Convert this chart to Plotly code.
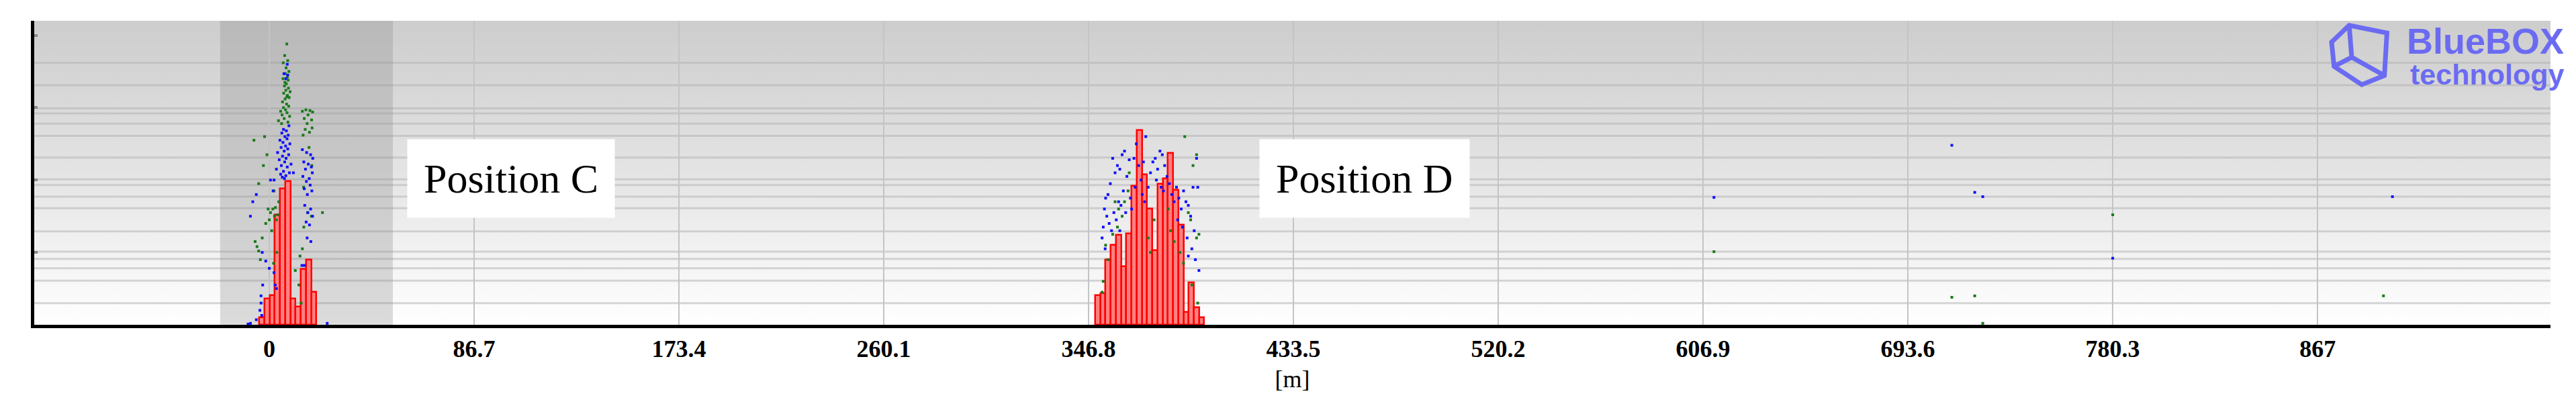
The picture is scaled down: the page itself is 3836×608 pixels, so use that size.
import base64
import plotly.graph_objects as go

# histogram bars (bin width 2.2 m)
bar_w = 2.2
c_start = -3.1
c_heights = [0.10, 0.36, 0.41, 1.52, 1.88, 1.98, 0.36, 0.25, 0.77, 0.90, 0.45]
d_start = 350.7
d_heights = [0.41, 0.44, 0.90, 1.10, 1.24, 0.81, 1.26, 1.92, 2.69, 2.08, 1.60,
             1.03, 1.95, 2.02, 2.37, 1.86, 1.38, 0.18, 0.58, 0.24, 0.10]

# scatter points (x in m, y in chart units)
green_pts = [
    (7.4, 3.88), (6.5, 3.72), (7.8, 3.65), (5.9, 3.62), (7.1, 3.55), (8.3, 3.5), (6.8, 3.47),
    (7.6, 3.42), (8.0, 3.38), (7.2, 3.33), (6.4, 3.3), (8.1, 3.27), (7.0, 3.24), (6.1, 3.2),
    (7.7, 3.17), (8.4, 3.14), (6.7, 3.12), (5.6, 3.08), (7.3, 3.05), (8.2, 3.02), (6.0, 3.0),
    (6.9, 2.97), (4.8, 2.95), (7.5, 2.93), (5.4, 2.9), (8.6, 2.88), (6.3, 2.85), (3.9, 2.82),
    (7.9, 2.8), (5.2, 2.78), (6.6, 3.35), (7.4, 3.15), (5.8, 3.4), (8.8, 3.22),
    (14.0, 2.95), (15.5, 2.97), (17.2, 2.96), (18.3, 2.94), (16.4, 2.9), (14.8, 2.85), (17.9, 2.83),
    (16.0, 2.78), (18.1, 2.72), (15.2, 2.7), (17.0, 2.66), (14.3, 2.62), (16.8, 2.45), (18.0, 2.2),
    (14.5, 1.9), (16.2, 1.55), (14.6, 1.35), (17.8, 1.5),
    (-6.0, 1.15), (-5.2, 1.08), (-4.5, 1.02), (-3.0, 1.2), (-1.5, 1.4), (0.5, 1.55), (1.5, 1.6),
    (2.2, 1.5), (3.0, 1.45), (1.0, 1.3), (2.6, 1.62), (3.5, 1.52), (-0.5, 1.6), (2.0, 1.85),
    (-2.5, 2.2), (-1.0, 2.35), (0.0, 1.45), (3.2, 1.0), (1.8, 0.85), (-4.5, 1.95), (-6.5, 2.55),
    (-2.0, 2.6), (12.5, 0.55), (13.5, 0.3), (11.0, 0.75), (22.5, 1.55), (-3.8, 0.9), (4.0, 1.7),
    (14.0, 1.05), (13.0, 0.95),
    (358, 1.7), (359.5, 1.6), (361, 1.5), (357, 1.25), (354, 1.1), (355, 0.9), (353, 0.6),
    (352.5, 0.45), (359, 1.35), (362, 1.7), (363.5, 1.85), (364, 2.1), (372, 1.2), (373, 1.0),
    (374.5, 1.45), (381.5, 1.3), (383, 1.15), (385.5, 1.0), (387, 0.85), (389, 1.55), (390, 1.45),
    (392.5, 1.2), (393.5, 1.25), (391, 2.2), (392.5, 2.35), (390.5, 0.55), (393, 0.3), (387.5, 2.6),
    (380.5, 1.6),
    (611.5, 1.01), (712.2, 0.38), (721.9, 0.40), (725.3, 0.02), (780.3, 1.52), (894.9, 0.40),
]
blue_pts = [
    (7.6, 3.6), (6.2, 3.47), (7.8, 3.45), (7.0, 3.4), (8.3, 2.75), (6.0, 2.7), (7.2, 2.68),
    (5.3, 2.65), (8.0, 2.62), (6.6, 2.6), (7.5, 2.57), (4.5, 2.55), (5.8, 2.52), (8.7, 2.5),
    (6.9, 2.47), (5.0, 2.45), (7.8, 2.43), (6.3, 2.4), (3.5, 2.38), (8.2, 2.35), (5.6, 2.33),
    (7.1, 2.3), (4.2, 2.28), (6.5, 2.25), (9.2, 2.22), (5.1, 2.2), (7.6, 2.18), (3.0, 2.15),
    (6.0, 2.12), (8.5, 2.1), (4.8, 2.08), (7.0, 2.06), (5.5, 2.04), (6.4, 2.02), (2.0, 2.0),
    (0.5, 2.0), (10.2, 2.1), (1.6, 1.85),
    (14.0, 2.42), (15.8, 2.38), (17.5, 2.35), (18.4, 2.3), (14.6, 2.25), (16.5, 2.22), (17.8, 2.18),
    (15.3, 2.15), (18.2, 2.1), (14.2, 2.05), (16.9, 2.02), (15.7, 1.98), (17.3, 1.93), (14.8, 1.88),
    (18.0, 1.85), (16.1, 1.8), (15.0, 1.65), (17.5, 1.6), (16.3, 1.55), (18.3, 1.5), (15.6, 1.42),
    (17.0, 1.38), (16.0, 1.2), (17.6, 1.15), (13.8, 0.82), (14.8, 0.82),
    (-7.0, 1.7), (-5.5, 1.8), (-8.0, 1.5), (-3.0, 1.0), (-1.5, 0.88), (0.0, 0.78), (2.0, 0.72),
    (-2.8, 0.55), (-3.5, 0.4), (-3.5, 0.3), (-4.0, 0.2), (-3.2, 0.13), (-5.5, 0.07), (-8, 0.02),
    (-9, 0.01), (2.5, 0.55), (3.0, 0.5), (24.5, 0.02),
    (357, 2.3), (358, 2.1), (359, 2.2), (360, 2.15), (361, 2.35), (362, 2.4), (363, 2.05),
    (364, 2.28), (356, 1.95), (355, 1.8), (354, 1.75), (353.5, 1.6), (354.5, 1.5), (355.5, 1.4),
    (356.5, 1.3), (357.5, 1.55), (358.5, 1.45), (359.5, 1.7), (360.5, 1.65), (361.5, 1.85),
    (353, 1.35), (352.5, 1.2), (353.8, 1.05), (366, 2.3), (367, 2.5), (368, 2.2), (369, 2.0),
    (370, 2.25), (371, 2.6), (369.5, 1.8), (370.5, 1.7), (372, 1.9), (373, 2.1), (374, 2.25),
    (375, 2.3), (376, 2.15), (377, 2.4), (378, 2.35), (379, 2.2), (375.5, 2.0), (377.5, 1.9),
    (378.5, 1.85), (380, 2.05), (381, 1.95), (382, 1.8), (383, 1.7), (384, 1.9), (385, 1.75),
    (386, 1.6), (387, 1.85), (388, 1.7), (389, 1.65), (390, 1.5), (384.5, 1.45), (386.5, 1.35),
    (388.5, 1.2), (391, 1.9), (391.5, 1.3), (390.5, 1.05), (392, 0.9), (389, 0.95), (393.5, 0.75),
    (392.5, 2.3), (393, 1.9), (365, 1.6), (366.5, 1.9), (364.5, 1.75), (362.5, 1.55), (360, 1.3),
    (611.5, 1.76), (712.2, 2.48), (721.9, 1.83), (725.3, 1.77), (780.3, 0.92), (898.7, 1.77),
]

tick_vals = [0, 86.7, 173.4, 260.1, 346.8, 433.5, 520.2, 606.9, 693.6, 780.3, 867]
tick_text = ["0", "86.7", "173.4", "260.1", "346.8", "433.5", "520.2", "606.9", "693.6", "780.3", "867"]
stripe_y = [3.62, 3.31, 2.99, 2.92, 2.78, 2.61, 2.31, 2.01, 1.93, 1.77, 1.61, 1.29, 1.01, 0.91, 0.78, 0.61, 0.30]
x_range = [-99.5, 965.6]
y_range = [0, 4.2]
shade = [-20.8, 52.3]

bar_x = [c_start + i * bar_w for i in range(len(c_heights))] + \
        [d_start + i * bar_w for i in range(len(d_heights))]
bar_y = c_heights + d_heights

fig = go.Figure()
fig.add_bar(x=bar_x, y=bar_y, width=bar_w,
            marker=dict(color="#ff8080", line=dict(color="#ff0000", width=2.5)))
fig.add_scatter(x=[p[0] for p in green_pts], y=[p[1] for p in green_pts], mode="markers",
                marker=dict(color="#1a7a1a", size=4, symbol="square"))
fig.add_scatter(x=[p[0] for p in blue_pts], y=[p[1] for p in blue_pts], mode="markers",
                marker=dict(color="#1010ff", size=4, symbol="square"))

svg = ('<svg xmlns="http://www.w3.org/2000/svg" width="100" height="100" preserveAspectRatio="none">'
       '<defs><linearGradient id="g" x1="0" y1="0" x2="0" y2="1">'
       '<stop offset="0" stop-color="#cdcdcd"/><stop offset="0.5" stop-color="#e4e4e4"/>'
       '<stop offset="1" stop-color="#ffffff"/></linearGradient></defs>'
       '<rect width="100" height="100" fill="url(#g)"/></svg>')
bg = "data:image/svg+xml;base64," + base64.b64encode(svg.encode()).decode()

shapes = [dict(type="rect", xref="x", yref="y", x0=shade[0], x1=shade[1], y0=0, y1=y_range[1],
               fillcolor="rgba(140,140,140,0.3)", line_width=0, layer="below")]
for yv in stripe_y:
    shapes.append(dict(type="line", xref="paper", yref="y", x0=0, x1=1, y0=yv, y1=yv,
                       line=dict(color="rgba(175,175,175,0.5)", width=3), layer="below"))

label_font = dict(family="Liberation Serif", size=62, color="black")
logo_col = "#6b6bf2"
annotations = [
    dict(x=shade[1] + 6, y=2.02, xref="x", yref="y", xanchor="left", showarrow=False,
         text="Position C", font=label_font, bgcolor="white", borderpad=24),
    dict(x=433.5 + 30, y=2.02, xref="x", yref="y", xanchor="center", showarrow=False,
         text="Position D", font=label_font, bgcolor="white", borderpad=24),
    dict(x=1.006, y=1.005, xref="paper", yref="paper", xanchor="right", yanchor="top",
         showarrow=False, text="<b>BlueBOX</b>",
         font=dict(family="Liberation Sans", size=54, color=logo_col)),
    dict(x=1.006, y=0.88, xref="paper", yref="paper", xanchor="right", yanchor="top",
         showarrow=False, text="<b>technology</b>",
         font=dict(family="Liberation Sans", size=43, color=logo_col)),
]
# cube logo outline
cube = dict(line=dict(color=logo_col, width=7), xref="paper", yref="paper", type="path",
            path="M 0.913 0.93 L 0.920 0.985 L 0.935 0.96 L 0.934 0.82 L 0.925 0.79 L 0.914 0.85 Z "
                 "M 0.920 0.985 L 0.921 0.88 L 0.934 0.82 M 0.921 0.88 L 0.914 0.85")

fig.update_layout(
    width=3836, height=608,
    margin=dict(l=43, r=46, t=23, b=132),
    paper_bgcolor="white", plot_bgcolor="white",
    showlegend=False, bargap=0,
    images=[dict(source=bg, xref="paper", yref="paper", x=0, y=1, sizex=1, sizey=1,
                 sizing="stretch", layer="below")],
    shapes=shapes + [cube],
    annotations=annotations,
    xaxis=dict(range=x_range, tickvals=tick_vals, ticktext=["<b>%s</b>" % t for t in tick_text],
               showgrid=True, gridcolor="#c4c4c4", gridwidth=2,
               showline=True, linecolor="black", linewidth=5, zeroline=False,
               ticks="", tickfont=dict(family="Liberation Serif", size=36, color="black"),
               title=dict(text="[m]", font=dict(family="Liberation Serif", size=36, color="black"),
                          standoff=14)),
    yaxis=dict(range=y_range, tickvals=[1, 2, 3, 4], showticklabels=False, showgrid=False,
               showline=True, linecolor="black", linewidth=5, zeroline=False,
               ticks="inside", ticklen=5, tickcolor="#888888", tickwidth=4),
)
fig.write_html("out.html")
